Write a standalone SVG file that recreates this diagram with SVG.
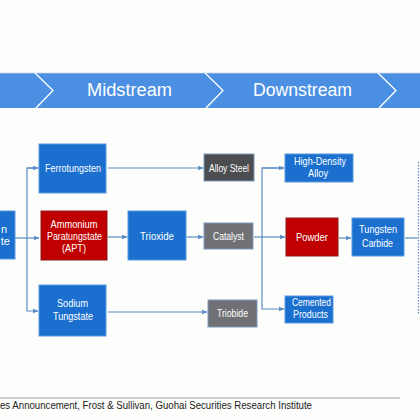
<svg xmlns="http://www.w3.org/2000/svg" width="420" height="420" viewBox="0 0 420 420">
<style>
text{font-family:"Liberation Sans",Arial,sans-serif;fill:#ffffff;}
.t{font-size:11px;text-anchor:middle;}
.hd{font-size:18px;text-anchor:middle;}
.blue{fill:#1a6fcf;stroke:#5b9ae0;stroke-width:1;}
.red{fill:#c00000;stroke:#8a1a1a;stroke-width:1;}
.dgray{fill:#4b4d50;stroke:#7d9cc0;stroke-width:1;}
.gray{fill:#707174;stroke:#7d9cc0;stroke-width:1;}
.c{fill:none;stroke:#5b8cc4;stroke-width:1.2;}
.src{font-size:10px;fill:#222222;}
</style>
<defs>
<marker id="ah" viewBox="0 0 10 10" refX="9" refY="5" markerWidth="5" markerHeight="5" orient="auto">
<path d="M0,1 L10,5 L0,9 z" fill="#5b8cc4"/>
</marker>
</defs>
<rect width="420" height="420" fill="#fdfdfb"/>
<g id="banner">
<rect x="0" y="73" width="420" height="35" fill="#4b8fe2"/>
<line x1="0" y1="73" x2="420" y2="73" stroke="#c8d6e8" stroke-width="0.8"/>
<polyline points="35,73 53,90.5 36,108" fill="none" stroke="#ffffff" stroke-width="1.3"/>
<polyline points="205,73 223,90.5 206,108" fill="none" stroke="#ffffff" stroke-width="1.3"/>
<polyline points="378,73 396,90.5 379,108" fill="none" stroke="#ffffff" stroke-width="1.3"/>
<text class="hd" x="129.5" y="96" textLength="85" lengthAdjust="spacingAndGlyphs">Midstream</text>
<text class="hd" x="302.5" y="96" textLength="99" lengthAdjust="spacingAndGlyphs">Downstream</text>
</g>
<g id="connectors">
<line class="c" x1="15" y1="238" x2="39" y2="238" marker-end="url(#ah)"/>
<polyline class="c" points="38,168 27,168 27,311 38,311" marker-end="url(#ah)"/>
<line class="c" x1="27" y1="168" x2="38" y2="168" marker-end="url(#ah)"/>
<line class="c" x1="108" y1="168" x2="203" y2="168" marker-end="url(#ah)"/>
<line class="c" x1="108" y1="237" x2="127" y2="237" marker-end="url(#ah)"/>
<line class="c" x1="187" y1="237" x2="203" y2="237" marker-end="url(#ah)"/>
<line class="c" x1="108" y1="312" x2="207" y2="312" marker-end="url(#ah)"/>
<line class="c" x1="254" y1="237" x2="285" y2="237" marker-end="url(#ah)"/>
<polyline class="c" points="284,168 262,168 262,309 284,309" marker-end="url(#ah)"/>
<line class="c" x1="262" y1="168" x2="284" y2="168" marker-end="url(#ah)"/>
<line class="c" x1="339" y1="238" x2="351" y2="238" marker-end="url(#ah)"/>
<line class="c" x1="405" y1="238" x2="418" y2="238"/>
<line x1="418.5" y1="162" x2="418.5" y2="315" stroke="#5b8cc4" stroke-width="1.2" stroke-dasharray="1.5,1.5"/>
</g>
<g id="node-left">
<rect class="blue" x="-5" y="211" width="20" height="48"/>
<text class="t" x="7" y="233" style="text-anchor:end">n</text>
<text class="t" x="10" y="245" style="text-anchor:end">te</text>
</g>
<g id="node-ferrotungsten">
<rect class="blue" x="39" y="144" width="67" height="49"/>
<text class="t" x="73" y="172" textLength="56" lengthAdjust="spacingAndGlyphs">Ferrotungsten</text>
</g>
<g id="node-apt">
<rect class="red" x="41" y="211" width="66" height="49"/>
<text class="t" x="74" y="228" textLength="47" lengthAdjust="spacingAndGlyphs">Ammonium</text>
<text class="t" x="74.5" y="240" textLength="55" lengthAdjust="spacingAndGlyphs">Paratungstate</text>
<text class="t" x="74" y="252" textLength="24" lengthAdjust="spacingAndGlyphs">(APT)</text>
</g>
<g id="node-sodium">
<rect class="blue" x="39" y="285" width="67" height="51"/>
<text class="t" x="72.5" y="307" textLength="31" lengthAdjust="spacingAndGlyphs">Sodium</text>
<text class="t" x="73" y="320" textLength="40" lengthAdjust="spacingAndGlyphs">Tungstate</text>
</g>
<g id="node-trioxide">
<rect class="blue" x="128" y="211" width="58" height="49"/>
<text class="t" x="157" y="240" textLength="34" lengthAdjust="spacingAndGlyphs">Trioxide</text>
</g>
<g id="node-alloysteel">
<rect class="dgray" x="204" y="154" width="50" height="27"/>
<text class="t" x="229" y="172" textLength="40" lengthAdjust="spacingAndGlyphs">Alloy Steel</text>
</g>
<g id="node-catalyst">
<rect class="gray" x="204" y="223" width="49" height="26"/>
<text class="t" x="228.5" y="240" textLength="31" lengthAdjust="spacingAndGlyphs">Catalyst</text>
</g>
<g id="node-triobide">
<rect class="gray" x="208" y="300" width="49" height="27"/>
<text class="t" x="232.5" y="317" textLength="31" lengthAdjust="spacingAndGlyphs">Triobide</text>
</g>
<g id="node-highdensity">
<rect class="blue" x="285" y="154" width="68" height="28"/>
<text class="t" x="320" y="165" textLength="52" lengthAdjust="spacingAndGlyphs">High-Density</text>
<text class="t" x="318" y="177" textLength="20" lengthAdjust="spacingAndGlyphs">Alloy</text>
</g>
<g id="node-powder">
<rect class="red" x="286" y="218" width="52" height="38"/>
<text class="t" x="312" y="241" textLength="32" lengthAdjust="spacingAndGlyphs">Powder</text>
</g>
<g id="node-tungstencarbide">
<rect class="blue" x="352" y="218" width="52" height="38"/>
<text class="t" x="378" y="233" textLength="38" lengthAdjust="spacingAndGlyphs">Tungsten</text>
<text class="t" x="377.5" y="247" textLength="31" lengthAdjust="spacingAndGlyphs">Carbide</text>
</g>
<g id="node-cemented">
<rect class="blue" x="285" y="296" width="48" height="27"/>
<text class="t" x="311.5" y="306" textLength="39" lengthAdjust="spacingAndGlyphs">Cemented</text>
<text class="t" x="310.5" y="318" textLength="35" lengthAdjust="spacingAndGlyphs">Products</text>
</g>
<g id="source">
<line x1="0" y1="398" x2="400" y2="398" stroke="#9a9a9a" stroke-width="1"/>
<text class="src" x="0" y="409" textLength="312" lengthAdjust="spacingAndGlyphs">es Announcement, Frost &amp; Sullivan, Guohai Securities Research Institute</text>
</g>
</svg>
